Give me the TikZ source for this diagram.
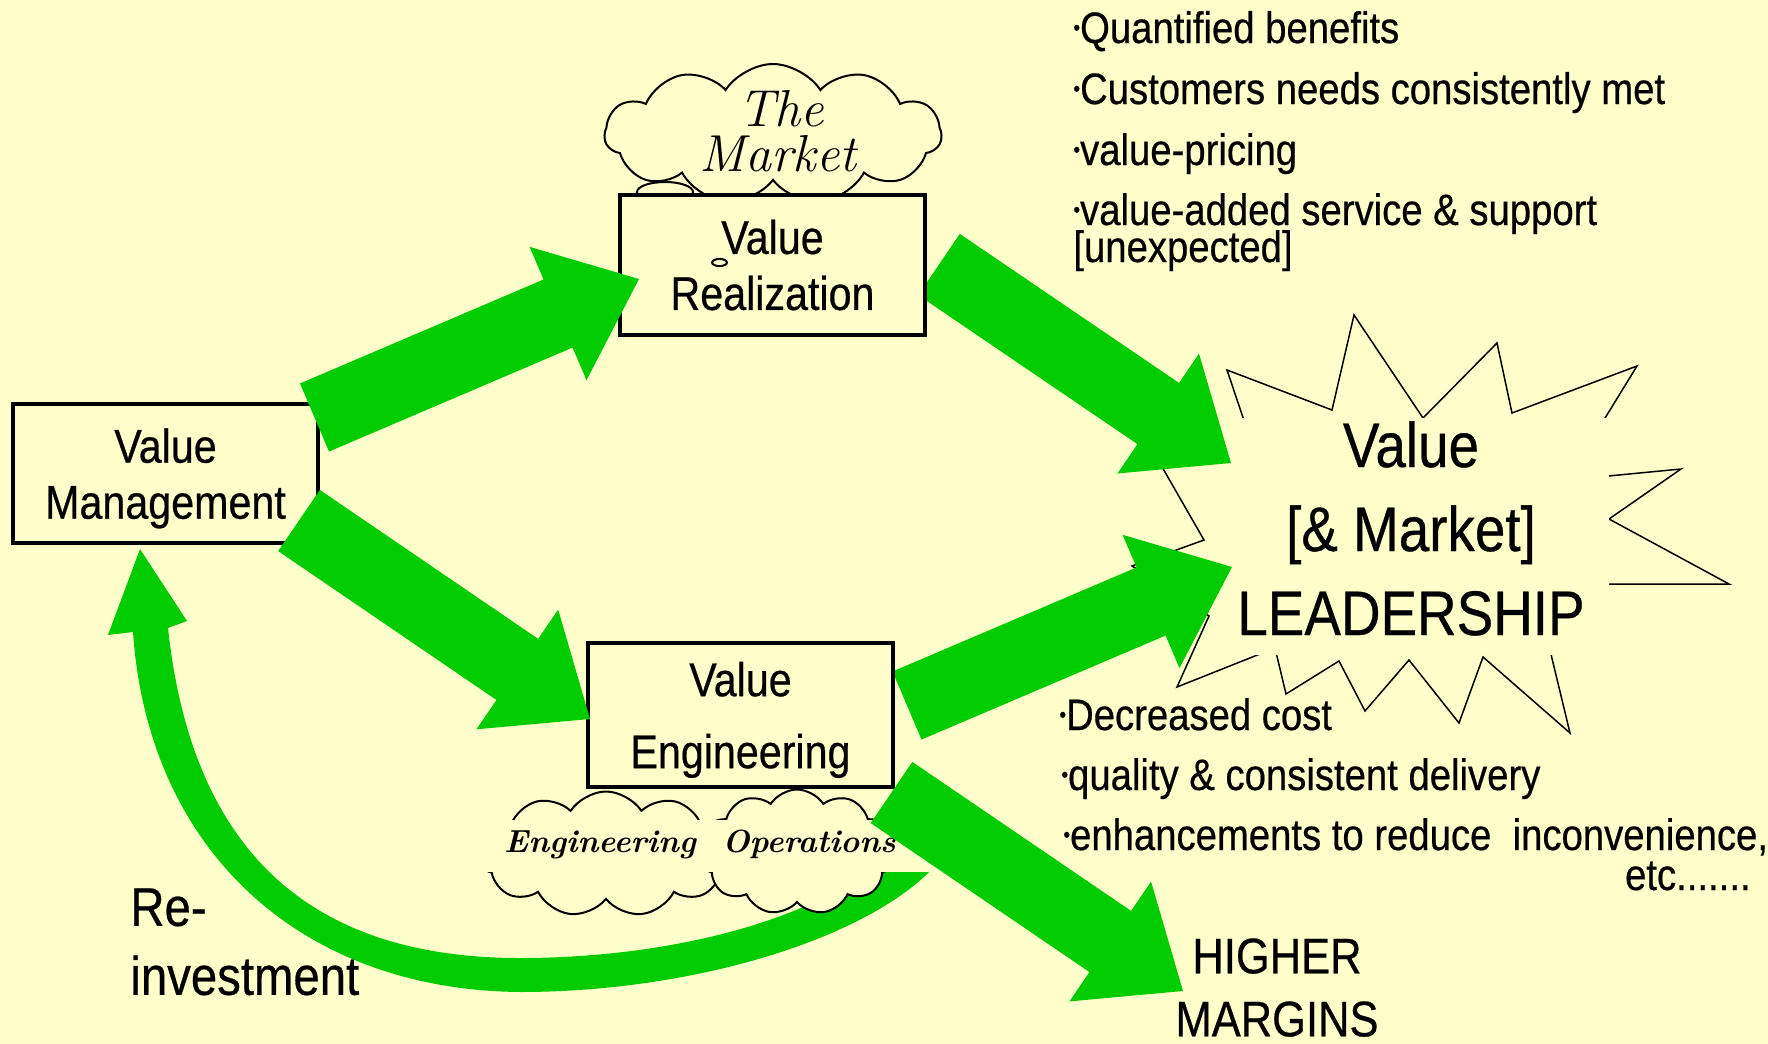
\documentclass[tikz,border=0pt]{standalone}
\usepackage{fontspec}
\setsansfont{Liberation Sans}[FakeStretch=0.87,FakeBold=0.5]
\renewcommand\familydefault{\sfdefault}
\usetikzlibrary{calc,shapes.symbols}
\definecolor{bg}{HTML}{FFFFCC}
\definecolor{flow}{HTML}{00CC00}

% small raised bullet for the list items
\newcommand\bul{\raisebox{0.18em}{\scalebox{0.5}{•}}}

% fat block arrow from tail midpoint #1 to tip #2
\newcommand\blockarrow[2]{%
  \coordinate (ba-h) at ($(#2)!44pt!(#1)$);
  \fill[flow] ($(#1)!18.5pt!90:(#2)$) -- ($(ba-h)!18.5pt!90:(#2)$)
    -- ($(ba-h)!36.25pt!90:(#2)$) -- (#2)
    -- ($(ba-h)!36.25pt!-90:(#2)$) -- ($(ba-h)!18.5pt!-90:(#2)$)
    -- ($(#1)!18.5pt!-90:(#2)$) -- cycle;
}

\begin{document}
\begin{tikzpicture}[x=0.5pt,y=-0.5pt,
  box/.style={draw=black,line width=2pt,fill=bg,minimum width=152.5pt,
    align=center,inner sep=0pt,font=\fontsize{23.7}{28}\selectfont},
  puff/.style={cloud,draw=black,line width=1pt,fill=bg,cloud puffs=11,
    cloud puff arc=115,inner sep=0pt},
  listtext/.style={anchor=base west,inner sep=0pt,font=\fontsize{22}{24}\selectfont},
  hand/.style={anchor=base,inner sep=0pt,font=\rmfamily\itshape\fontsize{26}{28}\selectfont},
  handsmall/.style={anchor=base,inner sep=0pt,font=\rmfamily\itshape\bfseries\fontsize{16}{18}\selectfont},
]
\useasboundingbox (0,0) rectangle (1768,1044);
\fill[bg] (0,0) rectangle (1768,1044);

% starburst outline
\draw[line width=0.75pt,line join=miter]
  (1227,370) -- (1332,410) -- (1354,315) -- (1423,418) -- (1497,343)
  -- (1512,413) -- (1637,366) -- (1567,480) -- (1681,469) -- (1609,519)
  -- (1729,584) -- (1534,584) -- (1570,733) -- (1483,657) -- (1459,723)
  -- (1409,660) -- (1365,711) -- (1339,661) -- (1286,694) -- (1275,648)
  -- (1177,687) -- (1209,616) -- (1132,566) -- (1204,540) -- (1150,446)
  -- (1260,468) -- cycle;
\fill[bg] (1212,418) rectangle (1609,655);
\node[anchor=north,align=center,inner sep=0pt,font=\fontsize{31.5}{42}\selectfont]
  (lead) at (1411,421) {Value\\{}[\& Market]\\LEADERSHIP};

% arrow end points
\coordinate (a1s) at (314.5,417.5);  \coordinate (a1t) at (639,279);
\coordinate (a2s) at (939,264.5);    \coordinate (a2t) at (1231,463);
\coordinate (a3s) at (299,520.5);    \coordinate (a3t) at (590,719);
\coordinate (a4s) at (907,705.5);    \coordinate (a4t) at (1232,567);
\coordinate (a5s) at (891.5,792.5);  \coordinate (a5t) at (1183,991);

% arrows into the leadership burst
\blockarrow{a2s}{a2t}
\blockarrow{a4s}{a4t}

% re-investment return arrow
\fill[flow] (108,635) -- (133,632)
  .. controls (148,850) and (300,990) .. (520,992)
  .. controls (700,992) and (880,935) .. (942,858)
  -- (880,858)
  .. controls (825,915) and (680,958) .. (520,958)
  .. controls (340,958) and (195,880) .. (168,628)
  -- (187,621) -- (140,549) -- cycle;

% clouds
\node[puff,aspect=2.2,minimum width=168.5pt,minimum height=70pt] (mkt) at (773,134) {};
\draw[line width=1pt,fill=bg] (665,192) ellipse [x radius=14pt,y radius=5pt];
\node[hand] (mkt1) at (781,126) {The};
\node[hand] (mkt2) at (778,171) {Market};

\node[puff,aspect=2,minimum width=127.5pt,minimum height=62.5pt] (engc) at (606,854) {};
\node[puff,aspect=1.5,minimum width=97.5pt,minimum height=62.5pt] (opsc) at (797,852) {};
\fill[bg] (475,820) rectangle (945,872);
\node[handsmall] (engt) at (600,852) {Engineering};
\node[handsmall] (opst) at (809,852) {Operations};

% boxes
\node[box,minimum height=69.5pt,text depth=0pt] (vm) at (165.5,473.5) {Value\\Management};
\node[box,minimum height=70pt] (vr) at (772.5,265) {Value\\Realization};
\node[box,minimum height=72pt,text depth=0pt,font=\fontsize{23.7}{36}\selectfont] (ve) at (740.5,715) {Value\\Engineering};
\draw[line width=1pt] (719.5,262.5) ellipse [x radius=3.7pt,y radius=1.8pt];

% arrows between the boxes
\blockarrow{a1s}{a1t}
\blockarrow{a3s}{a3t}
\blockarrow{a5s}{a5t}

% benefit lists
\node[listtext] (q1) at (1073,43) {\bul Quantified benefits};
\node[listtext] (q2) at (1073,104) {\bul Customers needs consistently met};
\node[listtext] (q3) at (1073,165) {\bul value-pricing};
\node[listtext] (q4) at (1073,225) {\bul value-added service \& support};
\node[listtext] (q5) at (1073,262) {[unexpected]};

\node[listtext] (c1) at (1059,730) {\bul Decreased cost};
\node[listtext] (c2) at (1061,790) {\bul quality \& consistent delivery};
\node[listtext] (c3) at (1063,850) {\bul enhancements to reduce\ \ inconvenience,};
\node[listtext,anchor=base east] (c4) at (1751,890) {etc.......};

% outcome labels
\node[anchor=north,align=center,inner sep=0pt,font=\fontsize{25}{31.5}\selectfont]
  (margins) at (1277,938) {HIGHER\\MARGINS};
\node[anchor=north west,align=left,inner sep=0pt,font=\fontsize{27.2}{34.5}\selectfont]
  (reinv) at (130,888) {Re-\\investment};
\end{tikzpicture}
\end{document}
